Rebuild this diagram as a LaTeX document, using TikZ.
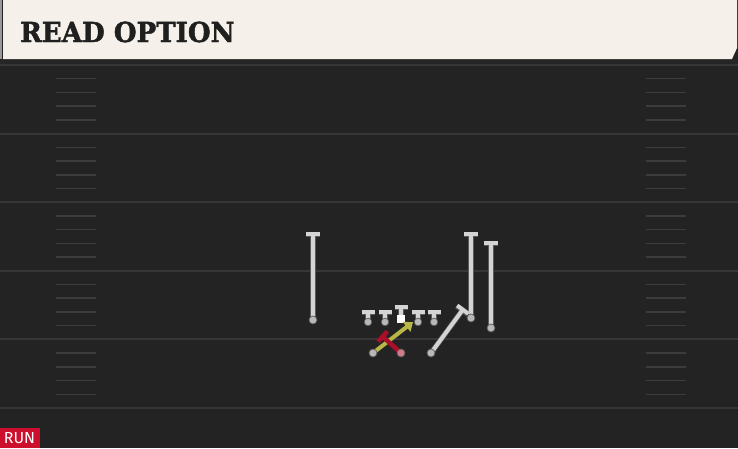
\documentclass[tikz,border=0pt]{standalone}
\usepackage{fontspec}
\setmainfont{DejaVu Serif}
\newfontfamily\titlefont{DejaVu Serif Bold}[FakeBold=1.6,FakeStretch=0.95]
\newfontfamily\runfont{Fira Sans}
\usetikzlibrary{arrows.meta,calc}
\definecolor{fieldgray}{HTML}{232323}
\definecolor{headercream}{HTML}{F5F1EA}
\definecolor{yardline}{HTML}{363636}
\definecolor{hashgray}{HTML}{3C3C3C}
\definecolor{playergray}{HTML}{D4D4D4}
\definecolor{playeredge}{HTML}{5A5A5A}
\definecolor{dotgray}{HTML}{B8B8B8}
\definecolor{readyellow}{HTML}{B7B646}
\definecolor{blockred}{HTML}{A90F2B}
\definecolor{runred}{HTML}{CE0E2D}
\tikzset{
  route/.style={line width=4pt, draw=playergray, preaction={draw=playeredge, line width=5.4pt}},
  tbar/.style={-{Bar[width=14pt]}},
  dot/.style={fill=dotgray, draw=playeredge, line width=0.7pt},
}
\begin{document}
\begin{tikzpicture}[x=1pt,y=-1pt]
    \useasboundingbox (0,0) rectangle (738,448);
    \fill[fieldgray] (0,0) rectangle (738,448);
    \fill[black!85] (0,59) rectangle (738,64);
    \foreach \i in {0,...,5}
      \draw[yardline, line width=2pt] (0,65+68.6*\i) -- (738,65+68.6*\i);
    \foreach \i in {0,...,4}
      \foreach \k in {1,...,4} {
        \draw[hashgray, line width=1.5pt] (56,65+68.6*\i+13.72*\k) -- (96,65+68.6*\i+13.72*\k);
        \draw[hashgray, line width=1.5pt] (646,65+68.6*\i+13.72*\k) -- (686,65+68.6*\i+13.72*\k);
      }
    \fill[headercream] (3,0) -- (737,0) -- (737,48) -- (732,59) -- (3,59) -- cycle;
    \fill[black!40] (0,0) rectangle (2,59);
    \node[anchor=base west, inner sep=0, text=black!88, font=\titlefont\fontsize{27.5}{28}\selectfont] (title) at (20,42) {READ OPTION};
    \fill[runred] (0,428) rectangle (40,448);
    \node[text=white, font=\runfont\fontsize{16}{16}\selectfont, inner sep=0] (run) at (19.5,438.5) {RUN};
    % receivers
    \coordinate (wrL) at (313,320);
    \coordinate (wrLend) at (313,232);
    \coordinate (wrR) at (471,318);
    \coordinate (wrRend) at (471,232);
    \coordinate (slot) at (491,328);
    \coordinate (slotend) at (491,241);
    \coordinate (te) at (431,353);
    \coordinate (teend) at (464,308);
    \draw[route, tbar] (wrL) -- (wrLend);
    \draw[route, tbar] (wrR) -- (wrRend);
    \draw[route, tbar] (slot) -- (slotend);
    \draw[route, tbar] (te) -- (teend);
    % line
    \foreach \x/\name in {368/lt, 385/lg, 418/rg, 434/rt} {
      \coordinate (\name) at (\x,322);
      \draw[route, -{Bar[width=13pt]}] (\name) -- (\x,310);
      \fill[dot] (\name) circle (3.8pt);
    }
    \coordinate (ctr) at (401,319);
    \draw[route, -{Bar[width=13pt]}] (ctr) -- (401,305);
    \fill[white] ($(ctr)+(-4,-4)$) rectangle ($(ctr)+(4,4)$);
    % backfield
    \coordinate (qb) at (373,353);
    \coordinate (readend) at (413,322);
    \coordinate (rb) at (401,353);
    \coordinate (rbend) at (381,335);
    \draw[readyellow, line width=4pt, -{Triangle[width=12pt,length=8pt]}] (qb) -- (readend);
    \draw[blockred, line width=4.5pt, -{Bar[width=14pt]}] (rb) -- (rbend);
    \fill[dot] (qb) circle (4pt);
    \fill[fill=blockred!55!white, draw=playeredge, line width=0.7pt] (rb) circle (4pt);
    \foreach \p in {wrL, wrR, slot, te}
      \fill[dot] (\p) circle (4pt);
\end{tikzpicture}
\end{document}
